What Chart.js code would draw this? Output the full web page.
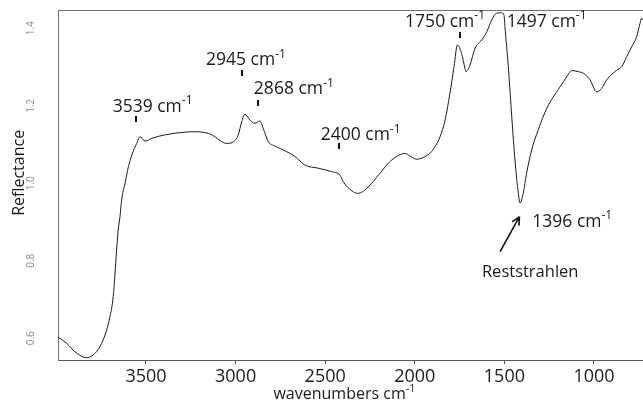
<!DOCTYPE html>
<html>
<head>
<meta charset="utf-8">
<script src="https://cdn.jsdelivr.net/npm/chart.js@4.4.1/dist/chart.umd.min.js"></script>
<style>
  html, body { margin: 0; padding: 0; background: #fff; }
  canvas { display: block; }
</style>
</head>
<body>
<canvas id="c" width="643" height="403"></canvas>
<script>
// spectrum (wavenumber in cm-1, reflectance)
const wavenumbers = [
  3991, 3942, 3896, 3831, 3785, 3747, 3720, 3701, 3683, 3674, 3664, 3655, 3645, 3636,
  3617, 3598, 3579, 3552, 3533, 3505, 3468, 3394, 3283, 3226, 3170, 3133, 3050, 3013,
  2985, 2966, 2948, 2920, 2892, 2864, 2846, 2817, 2780, 2734, 2668, 2613, 2539, 2464,
  2417, 2399, 2343, 2315, 2268, 2194, 2139, 2054, 2026, 1989, 1943, 1906, 1859, 1831,
  1804, 1781, 1762, 1739, 1720, 1715, 1692, 1664, 1626, 1598, 1571, 1543, 1515, 1502,
  1497, 1478, 1459, 1441, 1422, 1413, 1395, 1376, 1348, 1311, 1263, 1227, 1189, 1152,
  1124, 1088, 1060, 1022, 985, 957, 929, 873, 845, 817, 789, 762, 743, 734, 726
];
const reflectance = [
  0.603, 0.587, 0.565, 0.550, 0.561, 0.587, 0.621, 0.656, 0.707, 0.759, 0.828, 0.880, 0.914, 0.957,
  1.000, 1.043, 1.073, 1.103, 1.120, 1.109, 1.116, 1.125, 1.132, 1.133, 1.131, 1.125, 1.103, 1.107,
  1.125, 1.159, 1.178, 1.163, 1.155, 1.161, 1.142, 1.107, 1.096, 1.086, 1.069, 1.047, 1.039, 1.030,
  1.021, 1.004, 0.978, 0.974, 0.987, 1.026, 1.056, 1.077, 1.070, 1.062, 1.069, 1.082, 1.120, 1.163,
  1.232, 1.301, 1.357, 1.335, 1.297, 1.288, 1.305, 1.348, 1.370, 1.391, 1.421, 1.439, 1.440, 1.434,
  1.404, 1.301, 1.172, 1.060, 0.974, 0.949, 0.974, 1.026, 1.086, 1.138, 1.194, 1.223, 1.249, 1.275,
  1.291, 1.288, 1.284, 1.267, 1.236, 1.245, 1.267, 1.292, 1.301, 1.327, 1.353, 1.378, 1.413, 1.426,
  1.421
];

// axis ticks as printed on the figure
const xTickLabels = [3500, 3000, 2500, 2000, 1500, 1000];
const yTickLabels = [0.6, 0.8, 1.0, 1.2, 1.4];

// band labels
const bandText = ['3539', '2945', '2868', '2400', '1750', '1497', '1396'];

// where the labels sit (data units: wavenumber, reflectance)
const bandSpots = [
  { wn: 3686, r: 1.185 },
  { wn: 3165, r: 1.305 },
  { wn: 2898, r: 1.230 },
  { wn: 2525, r: 1.112 },
  { wn: 2054, r: 1.404 },
  { wn: 1487, r: 1.404 },
  { wn: 1344, r: 0.888 }
];
const markSpots = [
  { wn: 3556, r: 1.166 },
  { wn: 2966, r: 1.285 },
  { wn: 2873, r: 1.207 },
  { wn: 2421, r: 1.095 },
  { wn: 1748, r: 1.383 }
];
const arrowFrom = { wn: 1524, r: 0.8235 };
const arrowTo = { wn: 1416, r: 0.914 };
const reststrahlenAt = { wn: 1356, r: 0.759 };

const FONT = '"Open Sans", "Noto Sans", sans-serif';

function supText(ctx, x, y, base, sup, size, align) {
  ctx.font = size + 'px ' + FONT;
  const w1 = ctx.measureText(base).width;
  ctx.font = Math.round(size * 0.66) + 'px ' + FONT;
  const w2 = ctx.measureText(sup).width;
  let left = x;
  if (align === 'center') left = x - (w1 + w2) / 2;
  ctx.textAlign = 'left';
  ctx.textBaseline = 'alphabetic';
  ctx.font = size + 'px ' + FONT;
  ctx.fillText(base, left, y);
  ctx.font = Math.round(size * 0.66) + 'px ' + FONT;
  ctx.fillText(sup, left + w1, y - size * 0.42);
}

const decor = {
  id: 'decor',
  afterDraw(chart) {
    const { ctx, chartArea: a } = chart;
    const x = chart.scales.x, y = chart.scales.y;
    ctx.save();

    // top frame line
    ctx.strokeStyle = '#707070';
    ctx.lineWidth = 1;
    ctx.beginPath();
    ctx.moveTo(a.left, a.top + 0.5);
    ctx.lineTo(a.right, a.top + 0.5);
    ctx.stroke();

    // rotated y tick labels
    ctx.fillStyle = '#8a8a8a';
    ctx.font = '10px ' + FONT;
    ctx.textAlign = 'center';
    ctx.textBaseline = 'middle';
    yTickLabels.forEach(v => {
      ctx.save();
      ctx.translate(31, y.getPixelForValue(v));
      ctx.rotate(-Math.PI / 2);
      ctx.fillText(v.toFixed(1), 0, 0);
      ctx.restore();
    });

    // y title
    ctx.fillStyle = '#1a1a1a';
    ctx.save();
    ctx.translate(19, y.getPixelForValue(1.027));
    ctx.rotate(-Math.PI / 2);
    ctx.font = '16px ' + FONT;
    ctx.textAlign = 'center';
    ctx.textBaseline = 'middle';
    ctx.fillText('Reflectance', 0, 0);
    ctx.restore();

    // x title
    supText(ctx, (a.left + a.right) / 2 - 6, 399, 'wavenumbers cm', '-1', 16, 'center');

    // band labels
    bandText.forEach((t, i) => {
      const s = bandSpots[i];
      supText(ctx, x.getPixelForValue(s.wn), y.getPixelForValue(s.r), t + ' cm', '-1', 17.5, 'left');
    });

    // small marks under the labels
    ctx.fillStyle = '#111';
    markSpots.forEach(m => {
      const px = x.getPixelForValue(m.wn);
      const py = y.getPixelForValue(m.r);
      ctx.fillRect(Math.round(px) - 1, Math.round(py) - 3, 2, 6);
    });

    // arrow to the reststrahlen band
    const x0 = x.getPixelForValue(arrowFrom.wn), y0 = y.getPixelForValue(arrowFrom.r);
    const x1 = x.getPixelForValue(arrowTo.wn), y1 = y.getPixelForValue(arrowTo.r);
    const ang = Math.atan2(y1 - y0, x1 - x0);
    ctx.strokeStyle = '#111';
    ctx.lineWidth = 1.6;
    ctx.beginPath();
    ctx.moveTo(x0, y0);
    ctx.lineTo(x1, y1);
    ctx.moveTo(x1, y1);
    ctx.lineTo(x1 - 9 * Math.cos(ang - 0.45), y1 - 9 * Math.sin(ang - 0.45));
    ctx.moveTo(x1, y1);
    ctx.lineTo(x1 - 9 * Math.cos(ang + 0.45), y1 - 9 * Math.sin(ang + 0.45));
    ctx.stroke();

    ctx.fillStyle = '#1a1a1a';
    ctx.font = '16.5px ' + FONT;
    ctx.textAlign = 'center';
    ctx.textBaseline = 'alphabetic';
    ctx.fillText('Reststrahlen', x.getPixelForValue(reststrahlenAt.wn), y.getPixelForValue(reststrahlenAt.r));

    ctx.restore();
  }
};

new Chart(document.getElementById('c'), {
  type: 'line',
  data: {
    datasets: [{
      data: wavenumbers.map((w, i) => ({ x: w, y: reflectance[i] })),
      borderColor: '#1a1a1a',
      borderWidth: 1,
      pointRadius: 0,
      fill: false,
      cubicInterpolationMode: 'monotone'
    }]
  },
  options: {
    responsive: false,
    animation: false,
    devicePixelRatio: 1,
    events: [],
    layout: { padding: { top: 10, right: 0, left: 0, bottom: 0 } },
    plugins: { legend: { display: false }, tooltip: { enabled: false } },
    scales: {
      x: {
        type: 'linear', position: 'bottom', reverse: true, min: 726.5, max: 3991,
        afterBuildTicks: s => { s.ticks = xTickLabels.map(v => ({ value: v })); },
        afterFit: s => { s.height = 43; },
        grid: { display: true, drawOnChartArea: false, drawTicks: true, tickLength: 4, tickColor: '#555' },
        border: { display: true, color: '#555', width: 1 },
        ticks: {
          callback: v => String(v),
          color: '#1a1a1a',
          font: { family: FONT, size: 18 },
          padding: 2,
          maxRotation: 0,
          autoSkip: false
        }
      },
      y: {
        type: 'linear', position: 'left', min: 0.544, max: 1.4472,
        afterFit: s => { s.width = 58; },
        grid: { display: false },
        border: { display: true, color: '#707070', width: 1 },
        ticks: { display: false }
      }
    }
  },
  plugins: [decor]
});
</script>
</body>
</html>
